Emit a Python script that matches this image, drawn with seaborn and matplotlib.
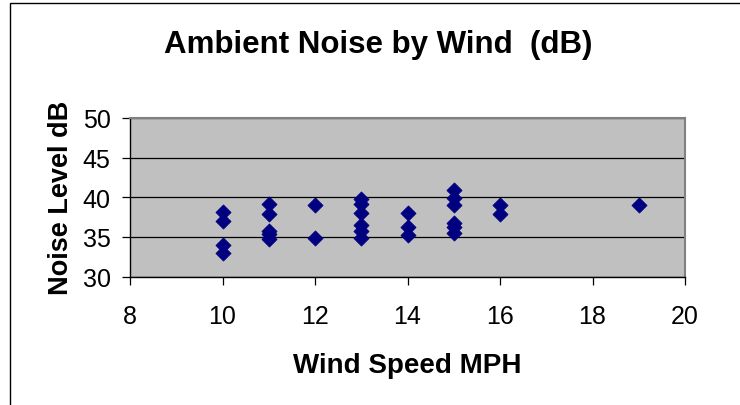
import matplotlib
matplotlib.use("Agg")
import matplotlib.pyplot as plt
import seaborn as sns
import pandas as pd
from matplotlib.patches import Rectangle

wind_mph = [10, 10, 10, 10,
            11, 11, 11, 11, 11,
            12, 12,
            13, 13, 13, 13, 13, 13,
            14, 14, 14,
            15, 15, 15, 15, 15, 15,
            16, 16,
            19]
noise_db = [38.1, 37.0, 34.0, 33.0,
            39.1, 37.9, 35.8, 35.4, 34.7,
            39.0, 34.8,
            39.8, 39.1, 38.0, 36.5, 35.8, 34.8,
            38.0, 36.3, 35.2,
            40.9, 39.9, 39.0, 36.8, 36.3, 35.5,
            39.0, 37.9,
            39.0]

x_ticks = [8, 10, 12, 14, 16, 18, 20]
y_ticks = [30, 35, 40, 45, 50]

df = pd.DataFrame({"Wind Speed MPH": wind_mph, "Noise Level dB": noise_db})

sns.set_style("white")
plt.rcParams['font.family'] = ['Liberation Sans', 'DejaVu Sans']
plt.rcParams['text.color'] = 'black'
plt.rcParams['axes.labelcolor'] = 'black'
plt.rcParams['xtick.color'] = 'black'
plt.rcParams['ytick.color'] = 'black'

W, H = 740, 406
fig = plt.figure(figsize=(W / 100, H / 100), dpi=100)
left, right, top, bottom = 130, 685, 119, 277.5
ax = fig.add_axes([left / W, 1 - bottom / H, (right - left) / W, (bottom - top) / H])

sns.scatterplot(data=df, x="Wind Speed MPH", y="Noise Level dB", ax=ax,
                marker="D", s=60, color="#000080", edgecolor="#000080",
                linewidth=0.5, zorder=3)

ax.set_facecolor("#C0C0C0")
ax.set_xlim(8, 20)
ax.set_ylim(30, 50)
ax.set_xticks(x_ticks)
ax.set_yticks(y_ticks)
ax.set_xticklabels([str(v) for v in x_ticks], fontsize=18)
ax.set_yticklabels([str(v) for v in y_ticks], fontsize=18)
ax.yaxis.grid(True, color="black", linewidth=0.9)
ax.xaxis.grid(False)
ax.set_axisbelow(True)
ax.tick_params(axis="both", which="major", direction="out", length=6,
               width=0.9, color="black", bottom=True, left=True)
ax.tick_params(axis="x", pad=14)
ax.tick_params(axis="y", pad=8)
for side in ["left", "bottom"]:
    ax.spines[side].set_color("black")
    ax.spines[side].set_linewidth(1.0)
for side in ["top", "right"]:
    ax.spines[side].set_visible(True)
    ax.spines[side].set_color("#808080")
    ax.spines[side].set_linewidth(1.5)

ax.set_xlabel("Wind Speed MPH", fontsize=20, fontweight="bold", labelpad=17)
ax.set_ylabel("Noise Level dB", fontsize=19.5, fontweight="bold", labelpad=6)

fig.text(377.7 / W, 1 - 53.3 / H, "Ambient Noise by Wind  (dB)", ha="center",
         va="baseline", fontsize=22.5, fontweight="bold")

fig.patches.append(Rectangle((9.5 / W, -0.1), 1.2, 1.1 - 3.5 / H,
                             transform=fig.transFigure, fill=False,
                             edgecolor="black", linewidth=1.0))

fig.savefig("out.png", dpi=100)
